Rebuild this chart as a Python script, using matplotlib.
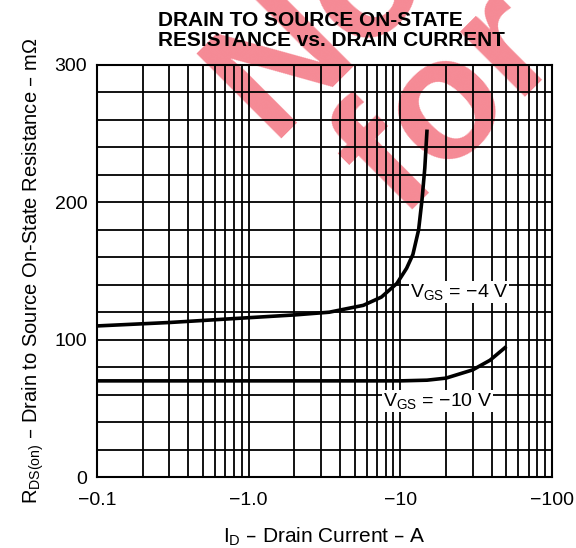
import matplotlib
matplotlib.use("Agg")
import matplotlib.pyplot as plt
import numpy as np
from matplotlib.ticker import FixedLocator, LogLocator, NullFormatter

plt.rcParams['font.family'] = ['Liberation Sans', 'DejaVu Sans']
plt.rcParams['mathtext.default'] = 'regular'

# curve data (drain current in A, magnitude; R in mOhm)
id_4v = [0.1, 0.3, 1.0, 2.0, 3.4, 5.7, 7.5, 9.5, 11.0, 12.1, 13.2, 13.9, 14.5, 15.0]
r_4v = [110, 112.5, 116, 118, 120, 125, 131, 141, 152, 162, 180, 202, 225, 253]

id_10v = [0.1, 1.0, 5.0, 10.0, 15.0, 20.0, 30.0, 39.0, 50.0]
r_10v = [70, 70, 70, 70, 70.5, 72, 78, 85, 95]

x_ticks = [0.1, 1.0, 10, 100]
x_labels = ['\u22120.1', '\u22121.0', '\u221210', '\u2212100']
y_ticks = [0, 100, 200, 300]

fig = plt.figure(figsize=(5.76, 5.48), dpi=100)
ax = fig.add_axes([97 / 576, 1 - 477 / 548, 455 / 576, 412 / 548])
ax.patch.set_alpha(0)

# watermark behind the grid
wm = dict(color='#f58a95', fontsize=125, fontweight='bold', rotation=45,
          ha='center', va='center', zorder=-5)
fig.text(320 / 576, 1 - 25 / 548, 'No', **wm)
fig.text(450 / 576, 1 - 105 / 548, 'for', **wm)

ax.plot(id_4v, r_4v, color='black', lw=2.6, solid_capstyle='butt', zorder=4)
ax.plot(id_10v, r_10v, color='black', lw=2.6, solid_capstyle='butt', zorder=4)

ax.set_xscale('log')
ax.set_xlim(0.1, 100)
ax.set_ylim(0, 300)
ax.set_xticks(x_ticks)
ax.set_xticklabels(x_labels)
ax.xaxis.set_minor_locator(LogLocator(base=10, subs=np.arange(2, 10)))
ax.xaxis.set_minor_formatter(NullFormatter())
ax.set_yticks(y_ticks)
ax.yaxis.set_minor_locator(FixedLocator(np.arange(0, 301, 20)))
ax.tick_params(which='both', length=0, labelsize=14)
ax.tick_params(axis='x', pad=11)
ax.tick_params(axis='y', pad=7)
ax.grid(True, which='both', color='black', lw=1.3)
for s in ax.spines.values():
    s.set_linewidth(1.5)

tb = dict(boxstyle='square,pad=0.05', fc='white', ec='none')
ax.text(11.6, 135, '$V_{GS}$ = \u22124 V', fontsize=14,
        va='center', ha='left', bbox=tb, zorder=5)
ax.text(7.7, 55, '$V_{GS}$ = \u221210 V', fontsize=14,
        va='center', ha='left', bbox=tb, zorder=5)

ax.set_xlabel('$I_D$ \u2013 Drain Current \u2013 A', fontsize=15, labelpad=12)
ax.set_ylabel('$R_{DS(on)}$ \u2013 Drain to Source On-State Resistance \u2013 m\u03a9',
              fontsize=14.5, labelpad=6)

fig.text(158 / 576, 1 - 26 / 548, 'DRAIN TO SOURCE ON-STATE',
         fontsize=15, fontweight='bold', ha='left', va='baseline')
fig.text(158 / 576, 1 - 46 / 548, 'RESISTANCE vs. DRAIN CURRENT',
         fontsize=15, fontweight='bold', ha='left', va='baseline')

fig.savefig('out.png', dpi=100, facecolor='white')
